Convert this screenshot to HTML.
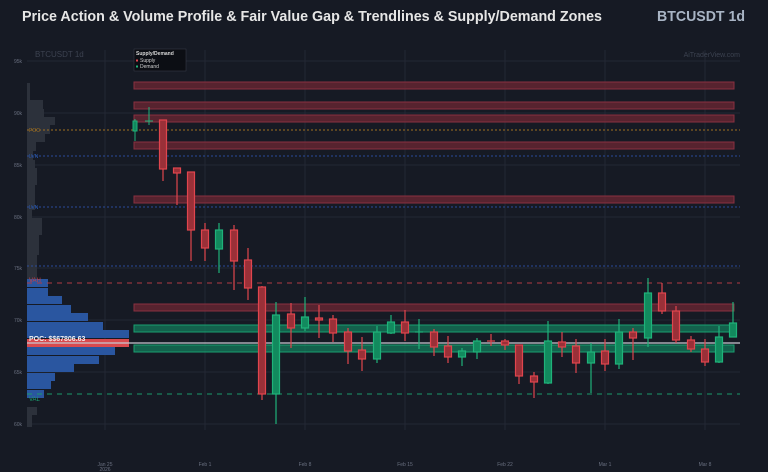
<!DOCTYPE html>
<html><head><meta charset="utf-8"><style>
body{margin:0;background:#161a24;width:768px;height:472px;overflow:hidden;font-family:"Liberation Sans",sans-serif}
</style></head><body>
<svg width="768" height="472" xmlns="http://www.w3.org/2000/svg" font-family="Liberation Sans, sans-serif" style="display:block">
<rect width="768" height="472" fill="#161a24"/>
<text x="22" y="21" font-size="15" font-weight="bold" fill="#e6e6e6" textLength="580" lengthAdjust="spacingAndGlyphs">Price Action &amp; Volume Profile &amp; Fair Value Gap &amp; Trendlines &amp; Supply/Demand Zones</text>
<text x="657" y="21" font-size="15" font-weight="bold" fill="#a8b4c4" textLength="88" lengthAdjust="spacingAndGlyphs">BTCUSDT 1d</text>
<g stroke="#232834" stroke-width="1">
<line x1="27" y1="61" x2="740" y2="61"/><line x1="27" y1="113" x2="740" y2="113"/><line x1="27" y1="165" x2="740" y2="165"/><line x1="27" y1="217" x2="740" y2="217"/><line x1="27" y1="268" x2="740" y2="268"/><line x1="27" y1="320" x2="740" y2="320"/><line x1="27" y1="372" x2="740" y2="372"/><line x1="27" y1="424" x2="740" y2="424"/>
<line x1="105" y1="50" x2="105" y2="430"/><line x1="205" y1="50" x2="205" y2="430"/><line x1="305" y1="50" x2="305" y2="430"/><line x1="405" y1="50" x2="405" y2="430"/><line x1="505" y1="50" x2="505" y2="430"/><line x1="605" y1="50" x2="605" y2="430"/><line x1="705" y1="50" x2="705" y2="430"/>
</g>
<g font-size="5" fill="#6a7080" text-anchor="end">
<text x="22" y="63">95k</text><text x="22" y="115">90k</text><text x="22" y="167">85k</text><text x="22" y="219">80k</text><text x="22" y="270">75k</text><text x="22" y="322">70k</text><text x="22" y="374">65k</text><text x="22" y="426">60k</text>
</g>
<g font-size="5" fill="#6a7080" text-anchor="middle">
<text x="105" y="466">Jan 25</text><text x="105" y="471">2026</text><text x="205" y="466">Feb 1</text><text x="305" y="466">Feb 8</text><text x="405" y="466">Feb 15</text><text x="505" y="466">Feb 22</text><text x="605" y="466">Mar 1</text><text x="705" y="466">Mar 8</text>
</g>
<text x="35" y="57" font-size="8" fill="#3c4250">BTCUSDT 1d</text>
<text x="740" y="57" font-size="7" fill="#3c4250" text-anchor="end">AiTraderView.com</text>
<g fill="#2c313b">
<rect x="27" y="83" width="3" height="17"/><rect x="27" y="100" width="16" height="9"/><rect x="27" y="109" width="17" height="8"/><rect x="27" y="117" width="28" height="8"/><rect x="27" y="125" width="23" height="9"/><rect x="27" y="134" width="18" height="8"/><rect x="27" y="142" width="9" height="9"/><rect x="27" y="151" width="6" height="9"/><rect x="27" y="160" width="8" height="8"/><rect x="27" y="168" width="10" height="17"/><rect x="27" y="185" width="8" height="25"/><rect x="27" y="210" width="5" height="8"/><rect x="27" y="218" width="15" height="17"/><rect x="27" y="235" width="12" height="20"/><rect x="27" y="255" width="10" height="24"/>
<rect x="27" y="407" width="10" height="8"/><rect x="27" y="415" width="5" height="12"/>
</g>
<g fill="#2a56a0">
<rect x="27" y="279" width="21" height="8"/><rect x="27" y="288" width="21" height="8"/><rect x="27" y="296" width="35" height="8"/><rect x="27" y="305" width="44" height="8"/><rect x="27" y="313" width="61" height="8"/><rect x="27" y="322" width="76" height="8"/><rect x="27" y="330" width="102" height="8"/><rect x="27" y="347" width="88" height="8"/><rect x="27" y="356" width="72" height="8"/><rect x="27" y="364" width="47" height="8"/><rect x="27" y="373" width="28" height="8"/><rect x="27" y="381" width="24" height="8"/><rect x="27" y="390" width="17" height="8"/>
</g>
<rect x="27" y="339" width="102" height="8" fill="#d94a4e"/>
<g fill="#6e2733" fill-opacity="0.75" stroke="#8a3040" stroke-width="1">
<rect x="134" y="82" width="600" height="7"/><rect x="134" y="102" width="600" height="7"/><rect x="134" y="115" width="600" height="7"/><rect x="134" y="142" width="600" height="7"/><rect x="134" y="196" width="600" height="7"/><rect x="134" y="304" width="600" height="7"/>
</g>
<g fill="#137a5a" fill-opacity="0.75" stroke="#1aa070" stroke-width="1">
<rect x="134" y="325" width="600" height="7"/><rect x="134" y="345" width="600" height="7"/>
</g>
<line x1="27" y1="130" x2="740" y2="130" stroke="#a07020" stroke-dasharray="2,2" stroke-width="1"/>
<line x1="27" y1="156" x2="740" y2="156" stroke="#2a4a9a" stroke-dasharray="2,2"/>
<line x1="27" y1="207" x2="740" y2="207" stroke="#2a4a9a" stroke-dasharray="2,2"/>
<line x1="27" y1="266" x2="740" y2="266" stroke="#2a4a9a" stroke-dasharray="2,2"/>
<line x1="27" y1="283" x2="740" y2="283" stroke="#b03a44" stroke-dasharray="5,5"/>
<line x1="27" y1="394" x2="740" y2="394" stroke="#1a9a6a" stroke-dasharray="5,5"/>
<line x1="27" y1="343" x2="740" y2="343" stroke="#c8c8d0" stroke-width="1.2"/>
<text x="29" y="132" font-size="5" fill="#a07020">POC</text>
<text x="29" y="158" font-size="5" fill="#2a5ab0">LVN</text>
<text x="29" y="209" font-size="5" fill="#2a5ab0">LVN</text>
<text x="29" y="282" font-size="6" fill="#c84048">VAH</text>
<text x="29" y="401" font-size="6" fill="#1aa070">VAL</text>
<text x="29" y="341" font-size="7" font-weight="bold" fill="#f0f0f0">POC: $$67806.63</text>
<g stroke-width="1">
<g stroke="#1fb27a" fill="#128a5e"><line x1="135" y1="119" x2="135" y2="141"/><rect x="133" y="121" width="4" height="10"/></g>
<g stroke="#1fb27a" fill="#128a5e"><line x1="149" y1="107" x2="149" y2="125"/><line x1="145" y1="121" x2="153" y2="121"/></g>
</g>
<g stroke-width="1.2">
<g stroke="#e0454e" fill="#9a3038">
<line x1="163" y1="120" x2="163" y2="181"/><rect x="159.5" y="120" width="7" height="49"/>
<line x1="177" y1="168" x2="177" y2="205"/><rect x="173.5" y="168" width="7" height="5"/>
<line x1="191" y1="172" x2="191" y2="261"/><rect x="187.5" y="172" width="7" height="58"/>
<line x1="205" y1="223" x2="205" y2="261"/><rect x="201.5" y="230" width="7" height="18"/>
<line x1="234" y1="225" x2="234" y2="290"/><rect x="230.5" y="230" width="7" height="31"/>
<line x1="248" y1="248" x2="248" y2="300"/><rect x="244.5" y="260" width="7" height="28"/>
<line x1="262" y1="286" x2="262" y2="400"/><rect x="258.5" y="287" width="7" height="107"/>
<line x1="291" y1="303" x2="291" y2="348"/><rect x="287.5" y="314" width="7" height="14"/>
<line x1="319" y1="305" x2="319" y2="338"/><rect x="315.5" y="318" width="7" height="2"/>
<line x1="333" y1="315" x2="333" y2="342"/><rect x="329.5" y="319" width="7" height="14"/>
<line x1="348" y1="328" x2="348" y2="364"/><rect x="344.5" y="332" width="7" height="19"/>
<line x1="362" y1="337" x2="362" y2="371"/><rect x="358.5" y="350" width="7" height="9"/>
<line x1="405" y1="310" x2="405" y2="341"/><rect x="401.5" y="322" width="7" height="11"/>
<line x1="434" y1="329" x2="434" y2="356"/><rect x="430.5" y="332" width="7" height="15"/>
<line x1="448" y1="336" x2="448" y2="363"/><rect x="444.5" y="346" width="7" height="11"/>
<line x1="491" y1="334" x2="491" y2="346"/><line x1="487" y1="341" x2="495" y2="341"/>
<line x1="505" y1="339" x2="505" y2="350"/><rect x="501.5" y="341" width="7" height="4"/>
<line x1="519" y1="345" x2="519" y2="384"/><rect x="515.5" y="345" width="7" height="31"/>
<line x1="534" y1="372" x2="534" y2="398"/><rect x="530.5" y="376" width="7" height="6"/>
<line x1="562" y1="332" x2="562" y2="357"/><rect x="558.5" y="342" width="7" height="5"/>
<line x1="576" y1="339" x2="576" y2="373"/><rect x="572.5" y="346" width="7" height="17"/>
<line x1="605" y1="339" x2="605" y2="371"/><rect x="601.5" y="351" width="7" height="13"/>
<line x1="633" y1="328" x2="633" y2="360"/><rect x="629.5" y="332" width="7" height="6"/>
<line x1="662" y1="283" x2="662" y2="314"/><rect x="658.5" y="293" width="7" height="18"/>
<line x1="676" y1="306" x2="676" y2="343"/><rect x="672.5" y="311" width="7" height="29"/>
<line x1="691" y1="336" x2="691" y2="352"/><rect x="687.5" y="340" width="7" height="9"/>
<line x1="705" y1="339" x2="705" y2="366"/><rect x="701.5" y="349" width="7" height="13"/>
</g>
<g stroke="#1fb27a" fill="#128a5e">
<line x1="219" y1="223" x2="219" y2="273"/><rect x="215.5" y="230" width="7" height="19"/>
<line x1="276" y1="302" x2="276" y2="424"/><rect x="272.5" y="315" width="7" height="79"/>
<line x1="305" y1="297" x2="305" y2="331"/><rect x="301.5" y="317" width="7" height="11"/>
<line x1="377" y1="326" x2="377" y2="363"/><rect x="373.5" y="332" width="7" height="27"/>
<line x1="391" y1="315" x2="391" y2="334"/><rect x="387.5" y="322" width="7" height="11"/>
<line x1="419" y1="319" x2="419" y2="349"/><line x1="415" y1="332" x2="423" y2="332"/>
<line x1="462" y1="348" x2="462" y2="366"/><rect x="458.5" y="351" width="7" height="6"/>
<line x1="477" y1="338" x2="477" y2="359"/><rect x="473.5" y="341" width="7" height="11"/>
<line x1="548" y1="321" x2="548" y2="384"/><rect x="544.5" y="341" width="7" height="42"/>
<line x1="591" y1="343" x2="591" y2="393"/><rect x="587.5" y="352" width="7" height="11"/>
<line x1="619" y1="319" x2="619" y2="369"/><rect x="615.5" y="332" width="7" height="32"/>
<line x1="648" y1="278" x2="648" y2="347"/><rect x="644.5" y="293" width="7" height="45"/>
<line x1="719" y1="326" x2="719" y2="363"/><rect x="715.5" y="337" width="7" height="25"/>
<line x1="733" y1="302" x2="733" y2="337"/><rect x="729.5" y="323" width="7" height="14"/>
</g>
</g>
<rect x="134" y="49" width="52" height="22" fill="#0c0e14" stroke="#3a3f4a" stroke-width="0.5"/>
<text x="136" y="55" font-size="5" font-weight="bold" fill="#d8d8d8">Supply/Demand</text>
<rect x="136" y="59.5" width="2" height="2" fill="#e0454e"/><text x="140" y="62" font-size="5" fill="#d0d0d0">Supply</text>
<rect x="136" y="65.5" width="2" height="2" fill="#1fb27a"/><text x="140" y="68" font-size="5" fill="#d0d0d0">Demand</text>
</svg>
</body></html>
